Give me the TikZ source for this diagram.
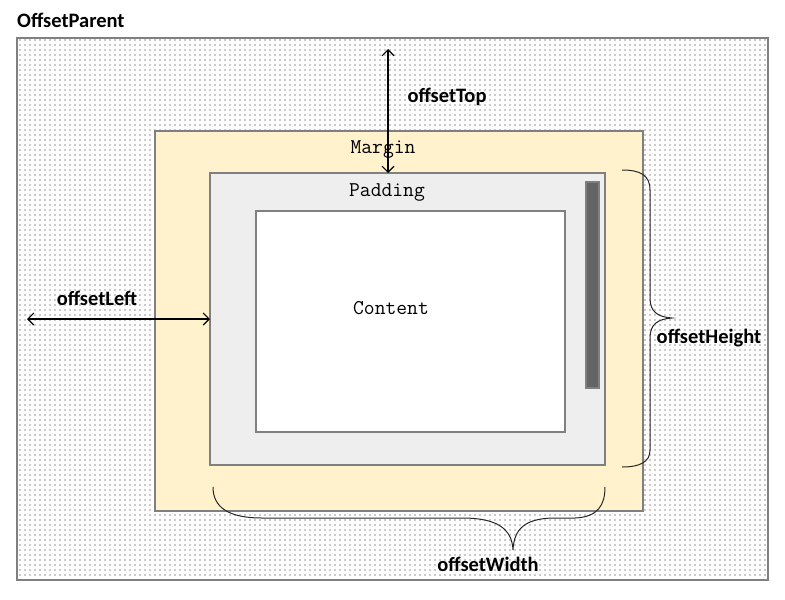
\documentclass[tikz,border=0pt]{standalone}
\usepackage{fontspec}
\setmainfont{Carlito}
\usetikzlibrary{patterns.meta,arrows.meta}
\definecolor{margincol}{RGB}{255,242,204}
\definecolor{padcol}{RGB}{238,238,238}
\definecolor{edgecol}{RGB}{128,128,128}
\definecolor{barcol}{RGB}{100,100,100}
\tikzset{
  boxnode/.style={draw=edgecol,line width=1.8pt,inner sep=0pt,outer sep=0pt,rectangle},
  lab/.style={font=\fontsize{20.5}{24}\selectfont\bfseries,inner sep=0pt},
  mono/.style={font=\fontsize{21}{24}\selectfont\ttfamily,inner sep=0pt},
  arr/.style={line width=1.1pt,{Straight Barb[length=6pt,width=12pt]}-{Straight Barb[length=6pt,width=12pt]}},
  brace/.style={line width=1pt,black!85}
}
\begin{document}
\begin{tikzpicture}[x=1pt,y=-1pt]
\useasboundingbox (0,0) rectangle (785,600);
% outer dotted parent
\node[boxnode,line width=1.3pt,pattern={Dots[distance=5pt,radius=0.6pt]},pattern color=black!90,minimum width=751pt,minimum height=542pt] (parent) at (392.5,309) {};
\node[lab,anchor=west] (ptitle) at (17,20) {OffsetParent};
% margin
\node[boxnode,fill=margincol,minimum width=488pt,minimum height=380pt] (margin) at (399,321) {};
% padding
\node[boxnode,fill=padcol,minimum width=395pt,minimum height=292pt] (padding) at (407.5,319) {};
% content
\node[boxnode,line width=1.5pt,fill=white,minimum width=309pt,minimum height=221pt] (content) at (410.5,321.5) {};
% scrollbar
\node[boxnode,line width=1.2pt,fill=barcol,minimum width=13pt,minimum height=206pt] (bar) at (592.5,285) {};
% box labels
\node[mono] (mtext) at (383,149) {Margin};
\node[mono] (ptext) at (387,192) {Padding};
\node[mono] (ctext) at (391,308) {Content};
% offset labels
\node[lab] (ltop) at (447,97) {offsetTop};
\node[lab] (lleft) at (97,298) {offsetLeft};
\node[lab] (lheight) at (709,338) {offsetHeight};
\node[lab] (lwidth) at (488,564) {offsetWidth};
% arrows
\coordinate (topend) at (388,49);
\draw[arr] (topend) -- (topend |- padding.north);
\coordinate (leftend) at (27,319);
\draw[arr] (leftend) -- (padding.west |- leftend);
% right brace
\coordinate (hb1) at (622,170);
\coordinate (hbtip) at (672,318);
\coordinate (hb2) at (622,467);
\draw[brace] (hb1) .. controls (640,170) and (650,175) .. (650,190) -- (650,298)
  .. controls (650,312) and (658,317) .. (hbtip)
  .. controls (658,319) and (650,324) .. (650,338) -- (650,450)
  .. controls (650,462) and (640,467) .. (hb2);
% bottom brace
\coordinate (wb1) at (213,487);
\coordinate (wbtip) at (513,550);
\coordinate (wb2) at (605,487);
\draw[brace] (wb1) .. controls (213,507) and (228,518) .. (262,518) -- (462,518)
  .. controls (496,518) and (512,528) .. (wbtip)
  .. controls (514,528) and (526,519) .. (552,518) -- (575,518)
  .. controls (598,517) and (605,505) .. (wb2);
\end{tikzpicture}
\end{document}
